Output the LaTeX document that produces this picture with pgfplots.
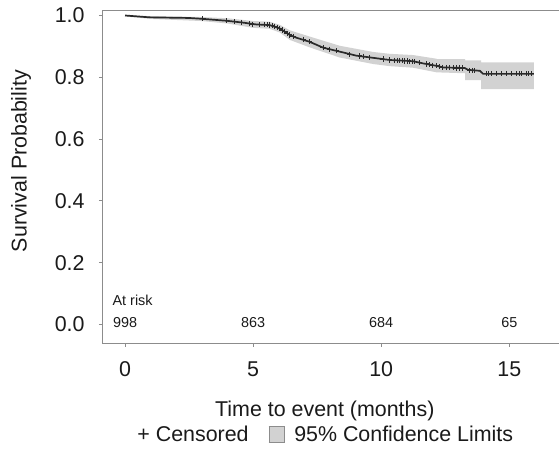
\documentclass[border=0pt]{standalone}
\usepackage{fontspec}
\setmainfont{Liberation Sans}
\usepackage{pgfplots}
\pgfplotsset{compat=1.18}

\definecolor{spine}{HTML}{8C8C8C}
\definecolor{band}{HTML}{D2D2D2}
\definecolor{curve}{HTML}{2A2A2A}
\definecolor{txt}{HTML}{1A1A1A}

\begin{document}
\begin{tikzpicture}
\begin{axis}[
    scale only axis,
    width=228.25bp, height=166.3bp,
    xmin=-0.88, xmax=16.94,
    ymin=-0.061, ymax=1.0155,
    xtick={0,5,10,15},
    ytick={0,0.2,0.4,0.6,0.8,1.0},
    xtick pos=left, ytick pos=left,
    tick align=outside,
    major tick length=1.75bp,
    axis line style={spine, line width=0.5bp},
    tick style={spine, line width=0.5bp},
    every tick label/.append style={font=\fontsize{10.7bp}{12bp}\selectfont, text=txt},
    /pgf/number format/assume math mode=true,
    yticklabel style={/pgf/number format/fixed, /pgf/number format/fixed zerofill,
        /pgf/number format/precision=1},
    yticklabel style={anchor=east, inner sep=0pt, xshift=-7bp},
    xticklabel style={anchor=base, inner sep=0pt, yshift=-14.8bp},
    xlabel={Time to event (months)},
    ylabel={Survival Probability},
    label style={font=\fontsize{10.7bp}{12bp}\selectfont, text=txt},
    xlabel style={at={(axis description cs:0.487,-0.2186)}, anchor=base, inner sep=0pt},
    ylabel style={at={(axis description cs:-0.166,0.548)}, anchor=base, inner sep=0pt},
    clip=false,
]
% confidence band
\addplot[draw=none, fill=band] coordinates {
    (0,1.0) (1,0.998) (3,0.995) (4,0.991) (5,0.982) (5.64,0.980) (6.04,0.970)
    (6.43,0.952) (7.2,0.932) (8.38,0.902) (9.68,0.882) (10.33,0.876) (11.24,0.872)
    (12.16,0.860) (12.16,0.859) (13.28,0.859) (13.28,0.855) (13.9,0.855)
    (13.9,0.848) (15.96,0.848)
    (15.96,0.762) (13.9,0.762) (13.9,0.791) (13.28,0.791) (13.28,0.813)
    (12.16,0.816) (11.24,0.831) (10.33,0.836) (9.68,0.843) (8.38,0.864)
    (7.2,0.897) (6.43,0.921) (6.04,0.945) (5.64,0.957) (5,0.960) (4,0.974)
    (3,0.982) (1,0.989) (0,0.997)
} -- cycle;
% survival curve
\addplot[curve, line width=0.85bp] coordinates {
    (0,1.0) (0.96,0.994) (2.5,0.992) (3.04,0.989) (3.95,0.983) (4.6,0.977)
    (5.12,0.971) (5.64,0.969) (6.04,0.958) (6.43,0.937) (6.69,0.928)
    (7.2,0.915) (7.73,0.896) (8.38,0.883) (9.03,0.870) (9.68,0.863)
    (10.33,0.856) (11.24,0.852) (11.63,0.845) (12.16,0.837) (12.41,0.832)
    (13.26,0.830) (13.39,0.824) (13.85,0.821) (13.98,0.811) (15.96,0.811)
};
% censored
\addplot[only marks, mark=+, mark size=1.3bp, curve, mark options={line width=0.5bp}] coordinates {
    (3.04,0.989) (3.95,0.983) (4.28,0.980) (4.54,0.978) (4.86,0.974) (4.99,0.972)
    (5.25,0.971) (5.45,0.970) (5.55,0.970) (5.64,0.969) (5.74,0.967) (5.84,0.965)
    (5.94,0.962) (6.04,0.958) (6.13,0.953) (6.23,0.948) (6.33,0.942)
    (6.43,0.937) (6.56,0.932) (6.95,0.922) (7.2,0.915) (7.73,0.896) (7.99,0.891) (8.25,0.886)
    (8.77,0.875) (9.16,0.869) (9.29,0.868) (9.55,0.864) (10.07,0.859) (10.33,0.856)
    (10.53,0.855) (10.62,0.855) (10.72,0.854) (10.82,0.854) (10.92,0.853)
    (11.02,0.853) (11.11,0.852) (11.21,0.852) (11.31,0.851)
    (11.5,0.847) (11.76,0.843) (11.9,0.841) (12.02,0.839) (12.15,0.837) (12.28,0.834)
    (12.41,0.832) (12.54,0.832) (12.68,0.831) (12.81,0.831) (12.94,0.830)
    (13.07,0.830) (13.18,0.830) (13.46,0.823) (13.56,0.822) (13.65,0.822) (14.11,0.811)
    (14.2,0.811) (14.3,0.811) (14.5,0.811) (14.69,0.811) (14.89,0.811) (15.08,0.811)
    (15.28,0.811) (15.38,0.811) (15.47,0.811) (15.67,0.811) (15.76,0.811) (15.86,0.811)
};
% at risk
\begin{scope}[every node/.style={font=\fontsize{7.2bp}{8bp}\selectfont, text=txt, inner sep=0pt}]
\node[anchor=base west] at (axis cs:-0.5,0.0621) {At risk};
\node[anchor=base] at (axis cs:0,-0.0104) {998};
\node[anchor=base] at (axis cs:5,-0.0104) {863};
\node[anchor=base] at (axis cs:10,-0.0104) {684};
\node[anchor=base] at (axis cs:15,-0.0104) {65};
\end{scope}
% legend line
\node[anchor=base, inner sep=0pt, font=\fontsize{10.7bp}{12bp}\selectfont, text=txt]
    at (axis description cs:0.488,-0.2958)
    {+ Censored\hspace{10bp}{\fboxsep=0pt\fboxrule=0.4bp\fcolorbox{spine}{band}{\rule{0pt}{7.5bp}\rule{7.5bp}{0pt}}}\hspace{4.5bp}95\% Confidence Limits};
\coordinate (bl) at (rel axis cs:-0.2245,-0.3148);
\coordinate (tr) at (rel axis cs:1,1.0322);
\end{axis}
\pgfresetboundingbox
\useasboundingbox (bl) rectangle (tr);
\end{tikzpicture}
\end{document}
